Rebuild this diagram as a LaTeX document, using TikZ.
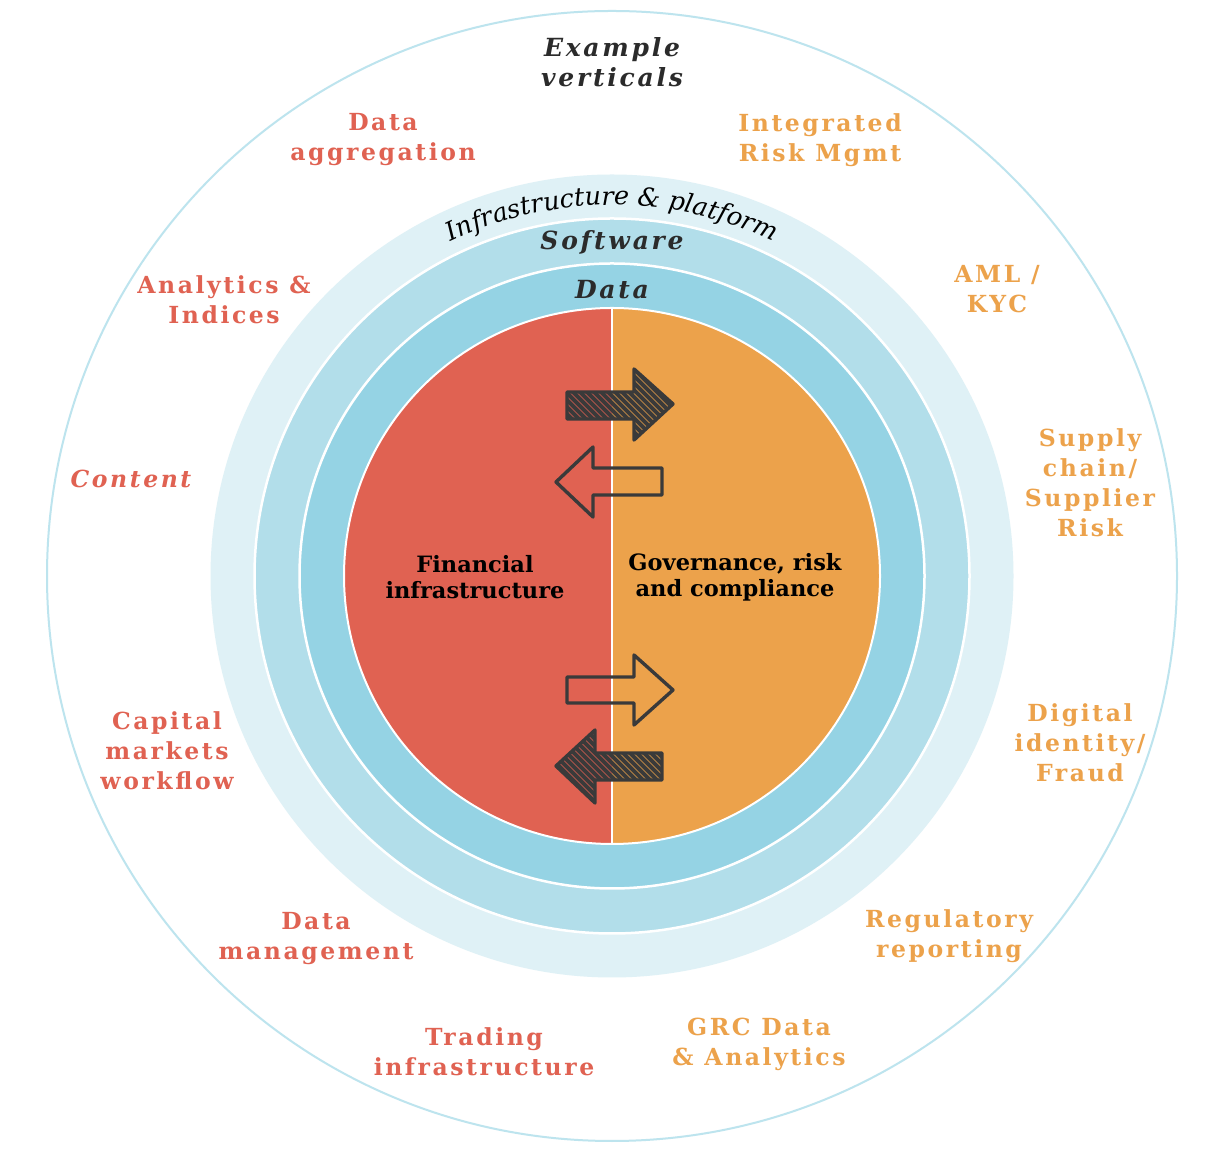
\documentclass[tikz,border=0pt]{standalone}
\usepackage{fontspec}
\setmainfont{DejaVu Serif}
\newfontfamily\labfont{DejaVu Serif}[LetterSpace=11]
\newfontfamily\midfont{DejaVu Serif}
\newfontfamily\curvfont{DejaVu Serif}
\usetikzlibrary{decorations.text}
\definecolor{redc}{HTML}{E06252}
\definecolor{orac}{HTML}{ECA24B}
\definecolor{ringa}{HTML}{DFF1F6}
\definecolor{ringb}{HTML}{B2DEEA}
\definecolor{ringc}{HTML}{95D3E4}
\definecolor{outerc}{HTML}{BDE4EE}
\definecolor{darkc}{HTML}{3A3A3A}
\definecolor{titc}{HTML}{2B2B2B}
\tikzset{
  lab/.style={align=center, inner sep=0pt, font=\labfont\bfseries\fontsize{23.5}{30}\selectfont},
  redlab/.style={lab, text=redc},
  oralab/.style={lab, text=orac},
  ringlab/.style={align=center, inner sep=0pt, text=titc, font=\labfont\bfseries\itshape\fontsize{25}{30}\selectfont},
  midlab/.style={align=center, inner sep=0pt, text=black, font=\midfont\bfseries\fontsize{22.5}{26}\selectfont},
  arr/.style={draw=darkc, line width=3.4pt, line join=round, line cap=round},
  hatch/.style={darkc, line width=3.8pt},
}
\begin{document}
\begin{tikzpicture}[x=1pt,y=1pt]
\useasboundingbox (0,0) rectangle (1228,1156);
\fill[white] (0,0) rectangle (1228,1156);
\coordinate (c) at (612,580);
% rings
\draw[outerc, line width=2pt] (c) circle[radius=565pt];
\fill[ringa] (c) circle[radius=401.5pt];
\filldraw[fill=ringb, draw=white, line width=2.5pt] (c) circle[radius=357.5pt];
\filldraw[fill=ringc, draw=white, line width=2.5pt] (c) circle[radius=312.5pt];
% inner halves
\fill[redc] (612,848) arc[start angle=90, end angle=270, radius=268pt] -- cycle;
\fill[orac] (612,848) arc[start angle=90, end angle=-90, radius=268pt] -- cycle;
\draw[white, line width=2pt] (c) circle[radius=268pt];
\draw[white, line width=2pt] (612,848) -- (612,312);
% curved text
\path[decorate, decoration={text along path, text align=center,
  text={|\curvfont\itshape\fontsize{25.5}{25.5}\selectfont|Infrastructure {\&} platform}}]
  (612,580) ++(150:371) arc[start angle=150, end angle=30, radius=371pt];
\node[ringlab] (soft) at (612,914) {Software};
\node[ringlab] (data) at (612,866) {Data};
% arrows
% arrow 1 hatched right
\begin{scope}
\clip (567,764) -- (634,764) -- (634,787) -- (673,752) -- (634,716) -- (634,737) -- (567,737) -- cycle;
\fill[darkc!35!redc] (560,700) rectangle (612,800);
\fill[darkc!35!orac] (612,700) rectangle (680,800);
\foreach \i in {-140,-133,...,140} \draw[hatch] (600+\i,800) -- (700+\i,700);
\end{scope}
\draw[arr] (567,764) -- (634,764) -- (634,787) -- (673,752) -- (634,716) -- (634,737) -- (567,737) -- cycle;
% arrow 2 outline left
\draw[arr] (662,688) -- (593,688) -- (593,709) -- (556,674) -- (593,639) -- (593,661) -- (662,661) -- cycle;
% arrow 3 outline right
\draw[arr] (567,479) -- (634,479) -- (634,501) -- (673,466) -- (634,431) -- (634,453) -- (567,453) -- cycle;
% arrow 4 hatched left
\begin{scope}
\clip (662,403) -- (595,403) -- (595,426) -- (556,390) -- (595,353) -- (595,376) -- (662,376) -- cycle;
\fill[darkc!35!redc] (540,340) rectangle (612,440);
\fill[darkc!35!orac] (612,340) rectangle (680,440);
\foreach \i in {-140,-133,...,140} \draw[hatch] (600+\i,440) -- (700+\i,340);
\end{scope}
\draw[arr] (662,403) -- (595,403) -- (595,426) -- (556,390) -- (595,353) -- (595,376) -- (662,376) -- cycle;
% center labels
\node[midlab] (fin) at (475,579) {Financial\\infrastructure};
\node[midlab] (grc) at (735,579) {Governance, risk\\and compliance};
% outer labels
\node[ringlab] (ex) at (612,1094) {Example\\verticals};
\node[redlab] (agg) at (383,1016) {Data\\aggregation};
\node[oralab] (irm) at (820,1016) {Integrated\\Risk Mgmt};
\node[redlab] (ana) at (224,856) {Analytics \&\\Indices};
\node[oralab] (aml) at (997,867) {AML /\\KYC};
\node[redlab, font=\labfont\bfseries\itshape\fontsize{23.5}{30}\selectfont] (cont) at (131,677) {Content};
\node[oralab] (sup) at (1090,673) {Supply\\chain/\\Supplier\\Risk};
\node[redlab] (cap) at (167,405) {Capital\\markets\\workflow};
\node[oralab] (dig) at (1080,413) {Digital\\identity/\\Fraud};
\node[redlab] (dman) at (316,217) {Data\\management};
\node[oralab] (reg) at (949,220) {Regulatory\\reporting};
\node[redlab] (trad) at (484,104) {Trading\\infrastructure};
\node[oralab] (grcd) at (759,112) {GRC Data\\\& Analytics};
\end{tikzpicture}
\end{document}
